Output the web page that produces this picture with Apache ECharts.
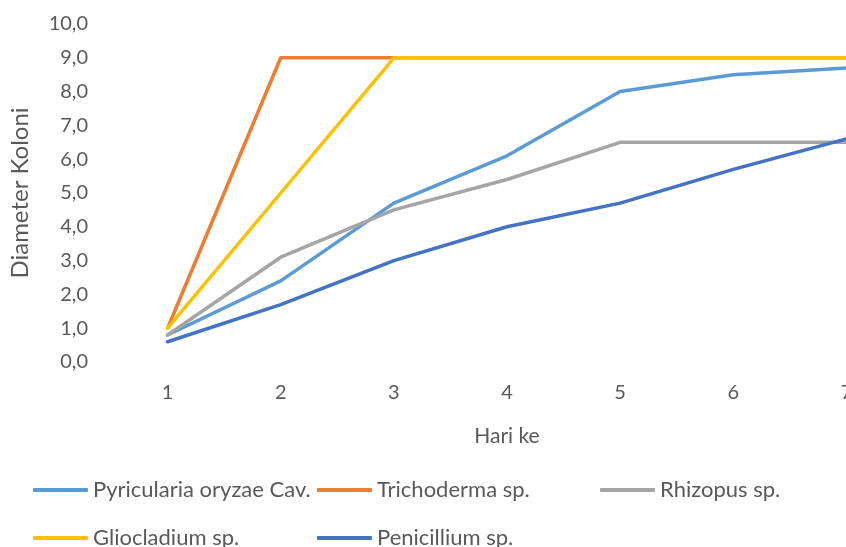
<!DOCTYPE html>
<html>
<head>
<meta charset="utf-8">
<script src="https://cdn.jsdelivr.net/npm/echarts@6/dist/echarts.min.js"></script>
<style>
html,body{margin:0;padding:0;background:#fff;overflow:hidden;width:846px;height:547px;}
#chart{width:903px;height:547px;}
</style>
</head>
<body>
<div id="chart"></div>
<script>
var days = ['1', '2', '3', '4', '5', '6', '7'];
var pyricularia = [0.8, 2.4, 4.7, 6.1, 8.0, 8.5, 8.7];
var trichoderma = [1.0, 9.0, 9.0, 9.0, 9.0, 9.0, 9.0];
var rhizopus = [0.8, 3.1, 4.5, 5.4, 6.5, 6.5, 6.5];
var gliocladium = [1.0, 5.0, 9.0, 9.0, 9.0, 9.0, 9.0];
var penicillium = [0.6, 1.7, 3.0, 4.0, 4.7, 5.7, 6.6];
var seriesNames = ['Pyricularia oryzae Cav.', 'Trichoderma sp.', 'Rhizopus sp.', 'Gliocladium sp.', 'Penicillium sp.'];
var seriesData = [pyricularia, trichoderma, rhizopus, gliocladium, penicillium];
var colors = ['#5B9BD5', '#ED7D31', '#A5A5A5', '#FFC000', '#4472C4'];
var yMin = 0, yMax = 10, yStep = 1;
var xTitle = 'Hari ke';
var yTitle = 'Diameter Koloni';

var FONT = 'Lato';
var TXT = '#595959';

var chart = echarts.init(document.getElementById('chart'), null, {renderer: 'canvas'});

var legendPos = [
  {left: 33, top: 479},
  {left: 317, top: 479},
  {left: 600, top: 479},
  {left: 33, top: 527},
  {left: 317, top: 527}
];

var legends = seriesNames.map(function (n, i) {
  return {
    data: [n],
    left: legendPos[i].left,
    top: legendPos[i].top,
    padding: 0,
    itemWidth: 55,
    itemHeight: 4,
    icon: 'roundRect',
    selectedMode: false,
    textStyle: {fontFamily: FONT, fontSize: 22, color: TXT}
  };
});

var option = {
  animation: false,
  color: colors,
  grid: {left: 111, right: 0, top: 24, bottom: 185, containLabel: false},
  legend: legends,
  xAxis: {
    type: 'category',
    data: days,
    boundaryGap: true,
    name: xTitle,
    nameLocation: 'middle',
    nameGap: 64,
    nameTextStyle: {fontFamily: FONT, fontSize: 21, color: TXT},
    axisLine: {show: false},
    axisTick: {show: false},
    splitLine: {show: false},
    axisLabel: {fontFamily: FONT, fontSize: 20, color: TXT, margin: 21}
  },
  yAxis: {
    type: 'value',
    min: yMin,
    max: yMax,
    interval: yStep,
    name: yTitle,
    nameLocation: 'middle',
    nameGap: 79,
    nameRotate: 90,
    nameTextStyle: {fontFamily: FONT, fontSize: 24, color: TXT},
    axisLine: {show: false},
    axisTick: {show: false},
    splitLine: {show: false},
    axisLabel: {
      fontFamily: FONT, fontSize: 20, color: TXT, margin: 23,
      formatter: function (v) { return v.toFixed(1).replace('.', ','); }
    }
  },
  series: seriesNames.map(function (n, i) {
    return {
      name: n,
      type: 'line',
      data: seriesData[i],
      symbol: 'none',
      smooth: false,
      lineStyle: {width: 3.5, color: colors[i], cap: 'round', join: 'round'},
      itemStyle: {color: colors[i]},
      emphasis: {disabled: true}
    };
  })
};
chart.setOption(option);
</script>
</body>
</html>
